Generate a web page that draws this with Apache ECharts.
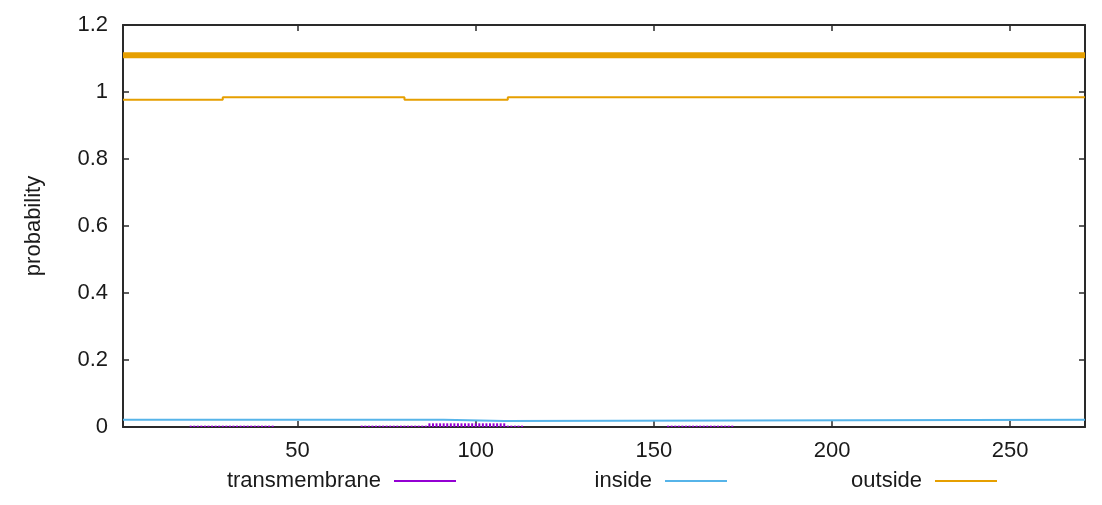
<!DOCTYPE html>
<html>
<head>
<meta charset="utf-8">
<script src="https://cdn.jsdelivr.net/npm/echarts@6/dist/echarts.min.js"></script>
<style>
  html, body { margin: 0; padding: 0; background: #ffffff; }
  #chart { width: 1102px; height: 505px; }
</style>
</head>
<body>
<div id="chart"></div>
<script>
// ---- data ----
const seqStart = 1;
const seqLength = 271;
const xTickValues = [50, 100, 150, 200, 250];

// posterior probability "outside" (value holds from each x until the next x)
const outsideStepX = [1, 29, 80, 109, 271];
const outsideStepY = [0.977, 0.984, 0.977, 0.984, 0.984];

// posterior probability "inside"
const insideStepX = [1, 91, 108, 271];
const insideStepY = [0.022, 0.018, 0.022, 0.022];

// posterior probability "transmembrane" (impulses per residue within ranges)
const tmStart = [20, 68, 87, 109, 154];
const tmEnd   = [43, 86, 108, 113, 172];
const tmValue = [0.004, 0.004, 0.011, 0.004, 0.004];

// predicted topology bar (outside along the whole sequence)
const topoStart = [1];
const topoEnd = [271];
const topoLevel = [1.11];

// ---- build series data ----
function steps(xs, ys) {
  const out = [];
  for (let i = 0; i < xs.length; i++) {
    out.push([xs[i], ys[i]]);
    if (i + 1 < xs.length) out.push([xs[i + 1], ys[i]]);
  }
  return out;
}
const tmData = [];
tmStart.forEach((s, i) => {
  for (let r = s; r <= tmEnd[i]; r++) tmData.push([r, tmValue[i]]);
});
const topoData = [];
topoStart.forEach((s, i) => { topoData.push([s, topoLevel[i]], [topoEnd[i], topoLevel[i]]); });

const FONT = "'Liberation Sans', Arial, Helvetica, sans-serif";
const FS = 22;
const TXT = '#1a1a1a';
const AX = '#2a2a2a';
const C_TM = '#9400d3', C_IN = '#56b4e9', C_OUT = '#e69f00';

const chart = echarts.init(document.getElementById('chart'), null, { renderer: 'canvas' });

function legendAt(name, rightPx) {
  return {
    data: [name],
    right: rightPx,
    top: 465,
    align: 'right',
    icon: 'rect',
    itemWidth: 62,
    itemHeight: 2,
    selectedMode: false,
    textStyle: { fontFamily: FONT, fontSize: FS, color: TXT, padding: [0, 8, 0, 0] }
  };
}

chart.setOption({
  animation: false,
  backgroundColor: '#ffffff',
  textStyle: { fontFamily: FONT },
  grid: { left: 123, right: 17, top: 25, bottom: 78, containLabel: false },
  legend: [
    legendAt('transmembrane', 641),
    legendAt('inside', 370),
    legendAt('outside', 100)
  ],
  xAxis: [{
    type: 'value', min: seqStart, max: seqLength, position: 'bottom',
    axisLine: { show: true, onZero: false, lineStyle: { color: AX, width: 2 } },
    axisTick: { show: true, inside: true, length: 6, customValues: xTickValues, lineStyle: { color: AX, width: 1.5 } },
    axisLabel: { show: true, customValues: xTickValues, margin: 13, fontFamily: FONT, fontSize: FS, color: TXT },
    splitLine: { show: false }
  }, {
    type: 'value', min: seqStart, max: seqLength, position: 'top',
    axisLine: { show: true, onZero: false, lineStyle: { color: AX, width: 2 } },
    axisTick: { show: true, inside: true, length: 6, customValues: xTickValues, lineStyle: { color: AX, width: 1.5 } },
    axisLabel: { show: false, customValues: xTickValues },
    splitLine: { show: false }
  }],
  yAxis: [{
    type: 'value', min: 0, max: 1.2, interval: 0.2, position: 'left',
    name: 'probability', nameLocation: 'middle', nameGap: 78, nameRotate: 90,
    nameTextStyle: { fontFamily: FONT, fontSize: FS, color: TXT },
    axisLine: { show: true, onZero: false, lineStyle: { color: AX, width: 2 } },
    axisTick: { show: true, inside: true, length: 6, lineStyle: { color: AX, width: 1.5 } },
    axisLabel: { show: true, margin: 15, fontFamily: FONT, fontSize: FS, color: TXT },
    splitLine: { show: false }
  }, {
    type: 'value', min: 0, max: 1.2, interval: 0.2, position: 'right',
    axisLine: { show: true, onZero: false, lineStyle: { color: AX, width: 2 } },
    axisTick: { show: true, inside: true, length: 6, lineStyle: { color: AX, width: 1.5 } },
    axisLabel: { show: false },
    splitLine: { show: false }
  }],
  series: [
    {
      name: 'transmembrane', type: 'bar', xAxisIndex: 0, yAxisIndex: 0,
      data: tmData, barWidth: 2, itemStyle: { color: C_TM }, z: 3
    },
    {
      name: 'inside', type: 'line', xAxisIndex: 0, yAxisIndex: 0,
      data: steps(insideStepX, insideStepY), symbol: 'none',
      lineStyle: { color: C_IN, width: 2 }, itemStyle: { color: C_IN }, z: 2
    },
    {
      name: 'outside', type: 'line', xAxisIndex: 0, yAxisIndex: 0,
      data: steps(outsideStepX, outsideStepY), symbol: 'none',
      lineStyle: { color: C_OUT, width: 2 }, itemStyle: { color: C_OUT }, z: 2
    },
    {
      name: 'topology', type: 'line', xAxisIndex: 0, yAxisIndex: 0,
      data: topoData, symbol: 'none',
      lineStyle: { color: C_OUT, width: 6 }, itemStyle: { color: C_OUT }, z: 2
    }
  ]
});
</script>
</body>
</html>
